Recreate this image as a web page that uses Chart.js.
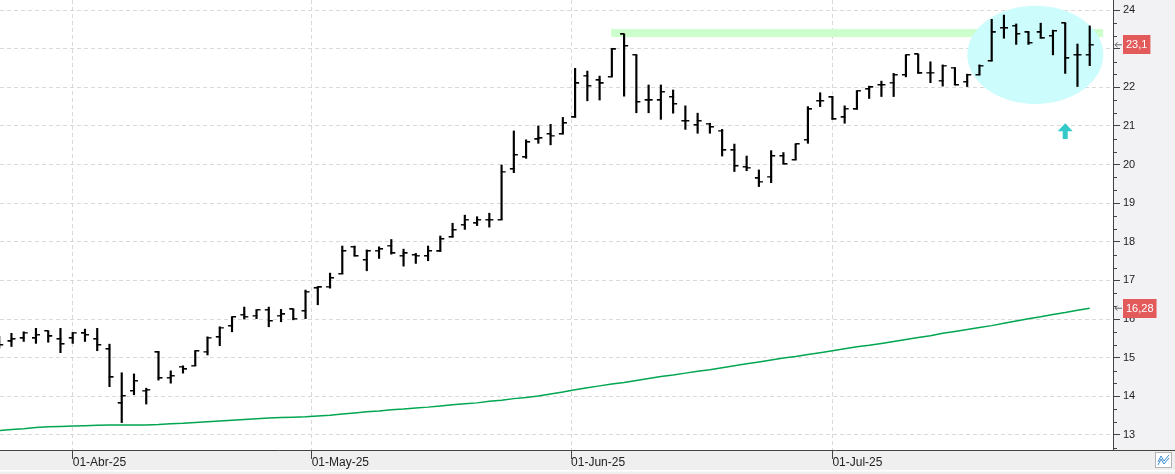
<!DOCTYPE html>
<html>
<head>
<meta charset="utf-8">
<script src="https://cdn.jsdelivr.net/npm/chart.js@4.4.1/dist/chart.umd.min.js"></script>
<style>
  html, body { margin: 0; padding: 0; background: #fff; }
  canvas { display: block; }
</style>
</head>
<body>
<canvas id="chart" width="1175" height="474"></canvas>
<script>
// Daily OHLC; the first bar sits six sessions before 01-Apr-25
const firstIndex = -6;
const opens = [15.40, 15.42, 15.50, 15.50, 15.69, 15.48,
  15.50, 15.63, 15.48, 15.22, 13.82, 14.14, 14.15, 15.14, 14.48, 14.77,
  14.79, 15.16, 15.53, 15.82, 16.11, 16.09, 16.24, 16.09, 16.25, 16.21,
  16.80, 16.84, 17.17, 17.87, 17.53, 17.77, 17.90, 17.64, 17.66, 17.63,
  17.75, 18.12, 18.44, 18.48, 18.57, 18.57, 19.88, 20.19, 20.65, 20.79,
  20.79, 21.22, 22.30, 22.18, 22.27, 23.37, 22.84, 21.66, 21.66, 21.75,
  21.13, 21.02, 21.06, 20.88, 20.37, 19.94, 19.64, 19.69, 20.22, 20.12,
  20.64, 21.65, 21.74, 21.22, 21.43, 21.95, 22.06, 22.12, 22.32, 22.85,
  22.38, 22.17, 22.51, 22.14, 22.32, 22.68, 23.54, 23.59, 23.42, 23.42,
  23.33, 23.66, 22.84, 22.84];
const highs = [15.55, 15.63, 15.67, 15.76, 15.69, 15.76,
  15.65, 15.74, 15.76, 15.35, 14.61, 14.58, 14.21, 15.16, 14.66, 14.79,
  15.18, 15.54, 15.80, 16.06, 16.31, 16.24, 16.31, 16.25, 16.25, 16.75,
  16.84, 17.19, 17.89, 17.89, 17.79, 17.87, 18.06, 17.81, 17.70, 17.89,
  18.15, 18.48, 18.69, 18.65, 18.74, 19.99, 20.87, 20.64, 21.00, 21.04,
  21.22, 22.49, 22.42, 22.29, 23.01, 23.37, 22.84, 22.06, 22.06, 21.93,
  21.52, 21.33, 21.07, 20.91, 20.53, 20.22, 19.86, 20.36, 20.31, 20.53,
  21.50, 21.86, 21.76, 21.52, 21.91, 22.03, 22.16, 22.36, 22.84, 22.85,
  22.66, 22.58, 22.51, 22.34, 22.58, 23.76, 23.87, 23.64, 23.44, 23.66,
  23.48, 23.66, 23.12, 23.59];
const lows = [15.25, 15.29, 15.42, 15.37, 15.40, 15.13,
  15.37, 15.42, 15.18, 14.25, 13.32, 14.04, 13.80, 14.42, 14.34, 14.60,
  14.79, 15.07, 15.31, 15.67, 16.00, 16.01, 15.80, 15.93, 15.98, 16.01,
  16.37, 16.80, 17.17, 17.63, 17.25, 17.57, 17.68, 17.37, 17.44, 17.51,
  17.75, 18.12, 18.32, 18.42, 18.38, 18.57, 19.79, 20.16, 20.55, 20.51,
  20.79, 21.22, 21.65, 21.67, 22.27, 21.77, 21.34, 21.34, 21.17, 21.33,
  20.91, 20.81, 20.81, 20.22, 19.82, 19.84, 19.43, 19.53, 20.01, 20.12,
  20.55, 21.50, 21.17, 21.07, 21.43, 21.71, 21.76, 21.76, 22.27, 22.36,
  22.12, 22.03, 22.06, 22.02, 22.32, 22.68, 23.27, 23.11, 23.11, 23.27,
  22.84, 22.36, 22.02, 22.56];
const closes = [15.33, 15.48, 15.65, 15.59, 15.55, 15.35,
  15.65, 15.59, 15.33, 14.49, 14.01, 14.40, 14.17, 14.47, 14.53, 14.70,
  15.17, 15.52, 15.78, 16.05, 16.06, 16.24, 15.95, 16.12, 16.01, 16.71,
  16.82, 17.06, 17.76, 17.63, 17.76, 17.81, 17.70, 17.70, 17.64, 17.76,
  18.07, 18.31, 18.57, 18.57, 18.57, 19.82, 20.25, 20.58, 20.68, 20.75,
  21.07, 22.10, 22.04, 22.10, 22.98, 23.07, 21.62, 21.66, 21.88, 21.57,
  21.13, 21.13, 20.97, 20.37, 19.96, 19.92, 19.56, 20.22, 20.01, 20.53,
  21.43, 21.65, 21.17, 21.44, 21.91, 22.00, 22.06, 22.32, 22.84, 22.36,
  22.38, 22.56, 22.06, 22.32, 22.56, 23.42, 23.53, 23.38, 23.15, 23.27,
  23.46, 22.75, 22.84, 23.10];
// long moving average (green line)
const sma = [13.11, 13.14, 13.16, 13.19, 13.21, 13.22,
  13.23, 13.24, 13.25, 13.26, 13.26, 13.26, 13.26, 13.27, 13.29, 13.30,
  13.32, 13.34, 13.36, 13.38, 13.40, 13.42, 13.44, 13.45, 13.46, 13.47,
  13.49, 13.51, 13.54, 13.57, 13.60, 13.62, 13.65, 13.67, 13.70, 13.72,
  13.75, 13.78, 13.81, 13.83, 13.87, 13.90, 13.94, 13.97, 14.01, 14.06,
  14.11, 14.17, 14.22, 14.27, 14.32, 14.36, 14.41, 14.46, 14.51, 14.55,
  14.60, 14.65, 14.69, 14.74, 14.79, 14.84, 14.89, 14.94, 14.99, 15.03,
  15.08, 15.13, 15.18, 15.23, 15.28, 15.32, 15.37, 15.42, 15.47, 15.52,
  15.57, 15.63, 15.68, 15.73, 15.78, 15.83, 15.89, 15.95, 16.01, 16.06,
  16.12, 16.17, 16.23, 16.28];

// month marks, in session units (0 = 01-Abr-25)
const monthTicks = [0, 19.5, 40.67, 62];
const monthLabels = ["01-Abr-25", "01-May-25", "01-Jun-25", "01-Jul-25"];

// Drawn marks on top of the price: resistance band, highlighted zone and arrow
const bandFrom = 43.95, bandTo = 84.1, bandLow = 23.30, bandHigh = 23.51;
const zoneX = 78.56, zoneY = 22.84, zoneRX = 5.55, zoneRY = 1.27;
const arrowX = 81, arrowTip = 21.07, arrowBase = 20.66;

const xs = opens.map((_, i) => i + firstIndex);
const FONT = "'Liberation Sans', Arial, sans-serif";

// small images used as point styles for the open (left) and close (right) ticks
function tick_image(side) {
  const c = document.createElement("canvas");
  c.width = 10;
  c.height = 2;
  const g = c.getContext("2d");
  g.fillStyle = "#000";
  if (side === "left") g.fillRect(1, 0, 4.5, 1.5);
  else g.fillRect(4.5, 0, 4.5, 1.5);
  return c;
}

function fmt(v) {
  return String(Number(v.toFixed(2))).replace(".", ",");
}

// the plot fills the canvas edge to edge, no padding for half labels
function no_padding(s) {
  s.paddingTop = 0;
  s.paddingBottom = 0;
  s.paddingLeft = 0;
  s.paddingRight = 0;
}

// backgrounds of the plot and the axis panels
const panels = {
  id: "panels",
  beforeDraw(chart) {
    const { ctx, chartArea: a, width, height } = chart;
    ctx.save();
    ctx.fillStyle = "#efefef";
    ctx.fillRect(0, 0, width, height);
    ctx.fillStyle = "#f2f2f4";
    ctx.fillRect(a.right, 0, width - a.right, a.bottom);
    ctx.fillStyle = "#ffffff";
    ctx.fillRect(a.left, a.top, a.right - a.left, a.bottom - a.top);
    ctx.fillRect(0, 470, width, 1.5);
    ctx.restore();
  }
};

// band and ellipse go behind the bars
const marks = {
  id: "marks",
  beforeDatasetsDraw(chart) {
    const { ctx, chartArea: a } = chart;
    const x = chart.scales.x, y = chart.scales.y;
    ctx.save();
    ctx.beginPath();
    ctx.rect(a.left, a.top, a.right - a.left, a.bottom - a.top);
    ctx.clip();
    ctx.fillStyle = "#ccffcc";
    const bx = x.getPixelForValue(bandFrom), by = y.getPixelForValue(bandHigh);
    ctx.fillRect(bx, by, x.getPixelForValue(bandTo) - bx, y.getPixelForValue(bandLow) - by);
    const cx = x.getPixelForValue(zoneX), cy = y.getPixelForValue(zoneY);
    const rx = x.getPixelForValue(zoneX + zoneRX) - cx;
    const ry = y.getPixelForValue(zoneY - zoneRY) - cy;
    ctx.fillStyle = "#ccfcfc";
    ctx.beginPath();
    ctx.ellipse(cx, cy, rx, ry, 0, 0, Math.PI * 2);
    ctx.fill();
    ctx.restore();
  },
  afterDatasetsDraw(chart) {
    const { ctx } = chart;
    const x = chart.scales.x, y = chart.scales.y;
    const ax = x.getPixelForValue(arrowX);
    const top = y.getPixelForValue(arrowTip), bottom = y.getPixelForValue(arrowBase);
    const neck = top + (bottom - top) * 0.5;
    ctx.save();
    ctx.fillStyle = "#33c9c9";
    ctx.beginPath();
    ctx.moveTo(ax, top);
    ctx.lineTo(ax + 7.5, neck);
    ctx.lineTo(ax + 2.5, neck);
    ctx.lineTo(ax + 2.5, bottom);
    ctx.lineTo(ax - 2.5, bottom);
    ctx.lineTo(ax - 2.5, neck);
    ctx.lineTo(ax - 7.5, neck);
    ctx.closePath();
    ctx.fill();
    ctx.restore();
  }
};

// minor ticks, last-value labels and the little corner button
const axisExtras = {
  id: "axisExtras",
  afterDraw(chart) {
    const { ctx, chartArea: a, width } = chart;
    const y = chart.scales.y;
    ctx.save();
    ctx.strokeStyle = "#444";
    ctx.lineWidth = 1;
    for (let k = Math.ceil(y.min * 3); k <= Math.floor(y.max * 3); k++) {
      if (k % 3 === 0) continue;
      const py = Math.round(y.getPixelForValue(k / 3)) + 0.5;
      ctx.beginPath();
      ctx.moveTo(a.right, py);
      ctx.lineTo(a.right + 4, py);
      ctx.stroke();
    }
    ctx.beginPath();
    ctx.moveTo(a.right, a.bottom + 0.5);
    ctx.lineTo(width, a.bottom + 0.5);
    ctx.stroke();

    ctx.font = "11px " + FONT;
    ctx.textBaseline = "middle";
    [closes[closes.length - 1], sma[sma.length - 1]].forEach(v => {
      const py = y.getPixelForValue(v);
      const txt = fmt(v);
      const w = ctx.measureText(txt).width + 6;
      ctx.fillStyle = "#e25a5a";
      ctx.fillRect(a.right + 10, Math.round(py - 9.5), w, 19);
      ctx.fillStyle = "#ffffff";
      ctx.fillText(txt, a.right + 13, py + 0.5);
      ctx.strokeStyle = "#666";
      ctx.beginPath();
      ctx.moveTo(a.right + 2, py);
      ctx.lineTo(a.right + 9, py);
      ctx.moveTo(a.right + 4.5, py - 2.5);
      ctx.lineTo(a.right + 2, py);
      ctx.lineTo(a.right + 4.5, py + 2.5);
      ctx.stroke();
    });

    ctx.fillStyle = "#ffffff";
    ctx.strokeStyle = "#b4b4b4";
    ctx.fillRect(1155, 452, 17, 16);
    ctx.strokeRect(1155.5, 452.5, 16, 15);
    ctx.strokeStyle = "#3a8fd8";
    ctx.beginPath();
    ctx.moveTo(1158, 462); ctx.lineTo(1161, 456); ctx.lineTo(1164, 461); ctx.lineTo(1169, 455);
    ctx.moveTo(1158, 465); ctx.lineTo(1161, 459); ctx.lineTo(1164, 464); ctx.lineTo(1169, 458);
    ctx.stroke();
    ctx.restore();
  }
};

const chart = new Chart(document.getElementById("chart").getContext("2d"), {
  type: "bar",
  data: {
    datasets: [
      {
        // high-low range of each session
        type: "bar",
        data: xs.map((x, i) => ({ x: x, y: [lows[i], highs[i]] })),
        backgroundColor: "#000",
        borderWidth: 0,
        barThickness: 1.5,
        grouped: false
      },
      {
        type: "line",
        data: xs.map((x, i) => ({ x: x, y: opens[i] })),
        showLine: false,
        pointStyle: tick_image("left"),
        pointRadius: 4,
        pointHoverRadius: 4
      },
      {
        type: "line",
        data: xs.map((x, i) => ({ x: x, y: closes[i] })),
        showLine: false,
        pointStyle: tick_image("right"),
        pointRadius: 4,
        pointHoverRadius: 4
      },
      {
        type: "line",
        data: xs.map((x, i) => ({ x: x, y: sma[i] })),
        borderColor: "#00a651",
        borderWidth: 1.5,
        pointRadius: 0,
        tension: 0
      }
    ]
  },
  options: {
    responsive: false,
    animation: false,
    layout: { padding: 0, autoPadding: false },
    plugins: { legend: { display: false }, tooltip: { enabled: false } },
    scales: {
      x: {
        type: "linear",
        min: -5.935,
        max: 84.9,
        offset: false,
        afterBuildTicks: s => { s.ticks = monthTicks.map(v => ({ value: v })); },
        afterFit: s => { s.height = 24; no_padding(s); },
        ticks: {
          autoSkip: false,
          maxRotation: 0,
          align: "start",
          padding: -4,
          color: "#222",
          font: { family: FONT, size: 12 },
          callback: (v, i) => monthLabels[i]
        },
        grid: { color: "#d9d9d9", offset: false, tickColor: "#444", tickLength: 9, tickBorderDash: [] },
        border: { color: "#444", dash: [4, 3] }
      },
      y: {
        type: "linear",
        position: "right",
        min: 12.61,
        max: 24.26,
        afterFit: s => { s.width = 62; no_padding(s); },
        ticks: {
          stepSize: 1,
          includeBounds: false,
          padding: 3,
          color: "#222",
          font: { family: FONT, size: 11 },
          callback: v => String(v)
        },
        grid: { color: "#d9d9d9", tickColor: "#444", tickLength: 7, tickBorderDash: [] },
        border: { color: "#444", dash: [4, 3] }
      }
    }
  },
  plugins: [panels, marks, axisExtras]
});
</script>
</body>
</html>
